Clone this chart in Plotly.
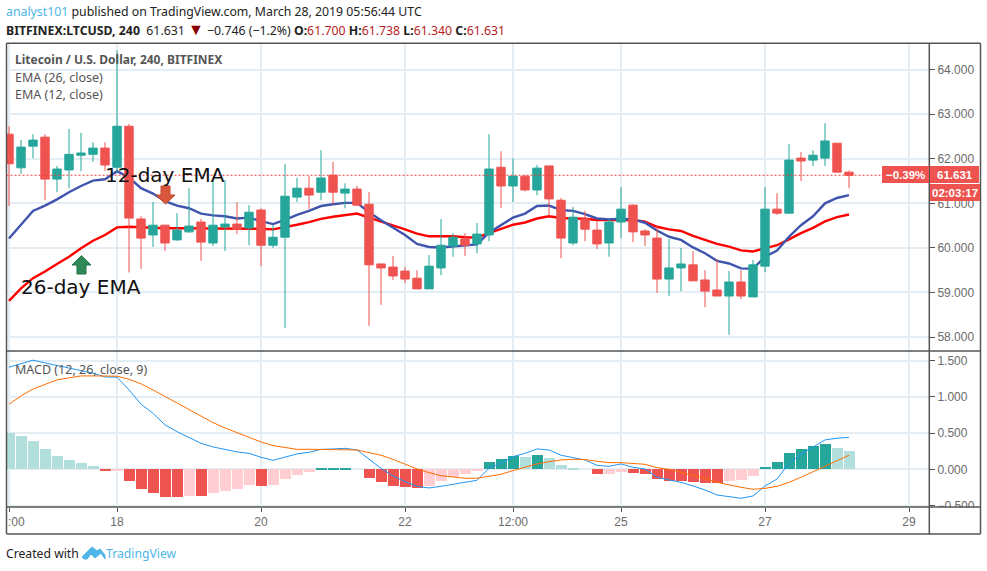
import plotly.graph_objects as go

W, H = 987, 571
bars = list(range(71))
open_ = [62.553,61.798,62.284,62.486,61.544,61.75,62.08,62.10,62.24,61.81,62.73,60.65,60.29,60.51,60.18,60.36,60.58,60.11,60.47,60.535,60.445,60.85,60.06,60.24,61.14,61.34,61.25,61.63,61.23,61.32,60.98,59.64,59.57,59.48,59.32,59.08,59.55,60.04,60.20,60.09,60.29,61.81,61.39,61.61,61.30,61.84,61.07,60.11,60.65,60.40,60.11,60.58,60.96,60.38,60.22,59.30,59.55,59.62,59.28,59.055,58.92,59.235,58.90,59.59,60.87,60.78,62.015,61.97,62.015,62.35,61.70]
high = [62.73,62.42,62.55,62.55,61.84,62.67,62.58,62.37,62.37,64.43,62.78,60.71,61.03,60.52,60.78,61.34,60.65,61.52,61.52,61.03,60.96,60.89,60.51,61.88,61.57,61.61,62.19,61.93,61.45,61.39,61.25,59.64,59.82,59.57,59.50,59.84,60.65,60.33,60.33,60.56,62.55,62.17,62.01,61.63,61.86,61.84,61.12,60.92,60.83,60.60,60.65,61.365,60.98,60.42,60.51,60.20,60.00,59.93,59.50,59.75,59.48,59.50,59.73,61.365,61.23,62.33,62.15,62.19,62.80,62.35,61.738]
low = [60.94,61.66,62.01,61.07,61.25,61.34,61.72,61.93,61.73,61.70,59.45,59.53,60.02,59.93,60.16,60.34,59.71,60.04,59.93,60.31,60.06,59.59,60.00,58.20,61.03,60.87,61.07,60.98,60.89,60.94,58.25,58.72,59.28,59.21,59.08,59.08,59.39,59.80,59.82,59.88,60.15,60.89,61.03,61.27,61.185,60.71,59.77,60.06,60.15,59.975,59.80,60.22,60.13,60.04,58.99,58.92,59.03,59.26,58.67,58.92,58.05,58.85,58.90,59.46,60.74,60.78,61.50,61.84,61.84,61.70,61.34]
close = [61.888,62.262,62.419,61.544,61.77,62.10,62.13,62.24,61.86,62.73,60.67,60.22,60.51,60.11,60.40,60.49,60.13,60.51,60.535,60.42,60.80,60.06,60.24,61.16,61.34,61.185,61.57,61.25,61.32,60.96,59.62,59.55,59.37,59.30,59.08,59.59,60.06,60.24,60.06,60.31,61.77,61.39,61.61,61.30,61.79,61.10,60.22,60.69,60.42,60.09,60.58,60.87,60.36,60.29,59.30,59.55,59.64,59.26,59.03,58.92,59.235,58.92,59.62,60.87,60.78,61.97,61.95,62.08,62.40,61.70,61.631]
ema12 = [60.21,60.51,60.83,60.95,61.09,61.25,61.39,61.51,61.54,61.72,61.58,61.34,61.22,61.05,60.95,60.89,60.77,60.73,60.71,60.66,60.68,60.60,60.535,60.63,60.74,60.83,60.94,60.98,61.01,61.01,60.80,60.62,60.46,60.29,60.09,60.02,60.01,60.03,60.06,60.08,60.34,60.51,60.68,60.77,60.94,60.95,60.85,60.83,60.76,60.66,60.64,60.655,60.64,60.565,60.39,60.25,60.18,60.01,59.88,59.71,59.65,59.54,59.53,59.80,59.94,60.25,60.51,60.71,61.00,61.12,61.185]
ema26 = [58.81,59.09,59.32,59.47,59.64,59.80,59.99,60.16,60.29,60.46,60.475,60.46,60.445,60.44,60.44,60.44,60.44,60.44,60.44,60.44,60.44,60.43,60.415,60.46,60.52,60.58,60.65,60.70,60.74,60.77,60.68,60.595,60.505,60.415,60.32,60.26,60.26,60.26,60.24,60.235,60.33,60.42,60.52,60.57,60.66,60.71,60.67,60.66,60.655,60.625,60.62,60.625,60.625,60.59,60.475,60.415,60.38,60.27,60.18,60.09,60.03,59.945,59.92,59.99,60.06,60.19,60.33,60.45,60.595,60.69,60.75]
hist = [.507,.46,.39,.28,.184,.129,.088,.046,-.023,-.02,-.161,-.272,-.327,-.382,-.382,-.369,-.369,-.327,-.30,-.272,-.217,-.23,-.217,-.134,-.078,-.037,.005,.005,.005,0,-.12,-.175,-.23,-.244,-.258,-.23,-.161,-.106,-.065,-.023,.10,.143,.184,.17,.198,.157,.06,.018,0,-.065,-.065,-.037,-.05,-.065,-.134,-.161,-.161,-.175,-.189,-.189,-.161,-.147,-.092,.032,.10,.226,.281,.323,.35,.295,.253]
hist_state = list("LLLLLLLLRPRRRRRPRPPPPRPPPPGGGGRRRRRPPPPPGGGLGLLLLRPPRRRRRRRRPPPGGGGGGLL")
macd = [1.41,1.46,1.507,1.47,1.433,1.396,1.364,1.327,1.276,1.272,1.097,.899,.774,.613,.521,.442,.359,.309,.276,.24,.221,.166,.124,.166,.212,.235,.276,.281,.29,.267,.143,.014,-.092,-.17,-.235,-.258,-.235,-.207,-.18,-.152,.014,.088,.175,.221,.281,.267,.194,.166,.129,.055,.041,.074,.028,.005,-.11,-.147,-.18,-.23,-.286,-.355,-.373,-.40,-.369,-.23,-.134,.083,.207,.309,.406,.429,.442]
signal = [.899,1.014,1.11,1.175,1.235,1.263,1.29,1.29,1.286,1.286,1.244,1.18,1.097,1.005,.912,.82,.728,.645,.571,.507,.442,.378,.327,.304,.276,.276,.276,.276,.276,.267,.23,.194,.138,.074,.005,-.046,-.088,-.106,-.124,-.124,-.101,-.069,-.018,.028,.074,.106,.129,.138,.134,.111,.092,.092,.083,.069,.023,0,-.041,-.083,-.124,-.18,-.217,-.249,-.276,-.263,-.235,-.18,-.11,-.032,.037,.12,.194]
x_tick_vals = [0, 9, 21, 33, 42, 51, 63, 75]
x_tick_text = ["", "18", "20", "22", "12:00", "25", "27", "29"]
price_ticks = [58, 59, 60, 61, 62, 63, 64]
macd_ticks = [-0.5, 0, 0.5, 1.0, 1.5]
last_close = 61.631

UP, DOWN = "#26a69a", "#ef5350"
STATE = {"G": "#26a69a", "L": "#b2dfdb", "R": "#ef5350", "P": "#ffcdd2"}
GRID, FRAME, AXTXT = "#e4edf3", "#555555", "#6b6b6b"
SANS = "Noto Sans"

def px(x): return x / W
def py(y): return 1 - y / H

fig = go.Figure()
fig.add_trace(go.Scatter(x=bars, y=ema26, mode="lines", line=dict(color="#ff0000", width=2.4), xaxis="x", yaxis="y", hoverinfo="skip"))
fig.add_trace(go.Scatter(x=bars, y=ema12, mode="lines", line=dict(color="#3f55ad", width=2.4), xaxis="x", yaxis="y", hoverinfo="skip"))
fig.add_trace(go.Candlestick(x=bars, open=open_, high=high, low=low, close=close, xaxis="x", yaxis="y3",
    whiskerwidth=0,
    increasing=dict(line=dict(color=UP, width=1), fillcolor=UP),
    decreasing=dict(line=dict(color=DOWN, width=1), fillcolor=DOWN)))
fig.add_trace(go.Bar(x=bars, y=hist, marker=dict(color=[STATE[s] for s in hist_state], line=dict(width=0)), width=0.92, xaxis="x2", yaxis="y2", hoverinfo="skip"))
fig.add_trace(go.Scatter(x=bars, y=macd, mode="lines", line=dict(color="#2196f3", width=1), xaxis="x2", yaxis="y2", hoverinfo="skip"))
fig.add_trace(go.Scatter(x=bars, y=signal, mode="lines", line=dict(color="#ff6d00", width=1), xaxis="x2", yaxis="y2", hoverinfo="skip"))

xr = [(6.5 - 9) / 12, (929 - 9) / 12]
price_range = [62 - (351 - 158.6) / 44.6, 62 + (158.6 - 43) / 44.6]
tick_font = dict(family="Liberation Sans", size=12, color=AXTXT)

def x_axis(**kw):
    return dict(range=xr, domain=[px(6.5), px(929)], tickmode="array", tickvals=x_tick_vals, automargin=False,
                showgrid=True, gridcolor=GRID, gridwidth=1.5, zeroline=False, showline=False, **kw)

shapes = []
def frame(x0, y0, x1, y1, color=FRAME, w=1.5):
    shapes.append(dict(type="line", xref="paper", yref="paper", x0=px(x0), y0=py(y0), x1=px(x1), y1=py(y1), line=dict(color=color, width=w)))

def poly(points, fill, edge):
    path = "M" + " L".join(f"{px(a):.5f},{py(b):.5f}" for a, b in points) + " Z"
    shapes.append(dict(type="path", xref="paper", yref="paper", path=path, fillcolor=fill, line=dict(color=edge, width=1)))

# white cover that trims the lowest MACD tick label at the pane border
shapes.append(dict(type="rect", xref="paper", yref="paper", x0=px(930), x1=px(980), y0=py(533), y1=py(507.5), fillcolor="white", line=dict(width=0)))
frame(6.5, 43.3, 980.5, 43.3)
frame(6.5, 534, 980.5, 534)
frame(6.5, 43.3, 6.5, 534)
frame(980.5, 43.3, 980.5, 534)
frame(929.3, 43.3, 929.3, 534)
frame(6.5, 351, 980.5, 351)
frame(6.5, 507, 980.5, 507)
# last price line
shapes.append(dict(type="line", xref="paper", yref="y", x0=px(6.5), x1=px(882), y0=last_close, y1=last_close, line=dict(color="#f23b3b", width=1, dash="2px,2px")))
# price tags
for a, b, c, d in [(882, 166, 929, 183), (930, 166, 979, 183), (930, 184, 980, 201)]:
    shapes.append(dict(type="rect", xref="paper", yref="paper", x0=px(a), x1=px(c), y0=py(d), y1=py(b), fillcolor=DOWN, line=dict(width=0)))
# hand-drawn arrows
poly([(161, 186), (170, 186), (170, 195), (175, 195), (165.5, 204), (156, 195), (161, 195)], "#d9573a", "#c0492e")
poly([(81.5, 255.7), (91, 265), (86, 265), (86, 274), (77, 274), (77, 265), (72, 265)], "#2e8b57", "#25704a")
# TradingView logo
poly([(82, 557), (92, 547), (97, 551), (100, 549), (105, 555), (105, 559), (101, 553), (95, 558), (91, 554), (87, 559), (84, 559)], "#4db6e6", "#4db6e6")

ann = []
def text(x, y, s, size=12, color="#222222", family=SANS, anchor="left"):
    ann.append(dict(xref="paper", yref="paper", x=px(x), y=py(y), text=s, showarrow=False, xanchor=anchor, yanchor="middle",
                    font=dict(family=family, size=size, color=color), align="left", borderpad=0, borderwidth=0))

RED = "#b71c1c"
text(6, 12, '<span style="color:#4db6e6">analyst101</span> published on TradingView.com, March 28, 2019 05:56:44 UTC', size=12.3)
text(6, 29, f'<b>BITFINEX:LTCUSD, 240</b>  61.631 <span style="color:#8b0000;font-size:16px">▼</span> −0.746 (−1.2%) <b>O:</b><span style="color:{RED}">61.700</span> <b>H:</b><span style="color:{RED}">61.738</span> <b>L:</b><span style="color:{RED}">61.340</span> <b>C:</b><span style="color:{RED}">61.631</span>', size=12.3)
text(15, 60, "<b>Litecoin / U.S. Dollar, 240, BITFINEX</b>", size=12, color="#555555")
text(15, 77, "EMA (26, close)", size=12.5, color="#555555")
text(15, 94, "EMA (12, close)", size=12.5, color="#555555")
text(15, 369, "MACD (12, 26, close, 9)", size=12.5, color="#555555")
text(105, 175, "12-day EMA", size=20, color="#111111", family="DejaVu Sans")
text(21, 287, "26-day EMA", size=20, color="#111111", family="DejaVu Sans")
text(8, 522, ":00", size=12, color=AXTXT, family="Liberation Sans")
text(905.5, 174.5, "<b>−0.39%</b>", size=11.5, color="white", family="Liberation Sans", anchor="center")
text(954.5, 174.5, "<b>61.631</b>", size=11.5, color="white", family="Liberation Sans", anchor="center")
text(955, 192.5, "<b>02:03:17</b>", size=11.5, color="white", family="Liberation Sans", anchor="center")
text(6, 553, "Created with", size=12.2, color="#222222")
text(106, 553, "TradingView", size=12.2, color="#4db6e6")

fig.update_layout(
    width=W, height=H, autosize=False, margin=dict(l=0, r=0, t=0, b=0, pad=0),
    paper_bgcolor="white", plot_bgcolor="white", showlegend=False, boxgap=0.3, boxgroupgap=0, bargap=0,
    xaxis=x_axis(anchor="y", showticklabels=False, ticks="", rangeslider=dict(visible=False)),
    xaxis2=x_axis(anchor="y2", ticktext=x_tick_text, ticks="outside", ticklen=4, tickcolor=FRAME, tickfont=tick_font),
    yaxis=dict(domain=[py(351), py(43.3)], range=price_range, side="right", anchor="x", tickmode="array", tickvals=price_ticks, automargin=False,
               tickformat=".3f", ticks="outside", ticklen=5, tickcolor=FRAME, tickfont=tick_font,
               showgrid=True, gridcolor=GRID, gridwidth=1.5, zeroline=False),
    yaxis3=dict(domain=[py(351), py(43.3)], range=price_range, overlaying="y", side="right", anchor="x", visible=False, automargin=False),
    yaxis2=dict(domain=[py(507), py(351)], range=[(469.3 - 507) / 72.4, (469.3 - 351) / 72.4], side="right", anchor="x2", automargin=False,
                tickmode="array", tickvals=macd_ticks, tickformat=".3f", ticks="outside", ticklen=5, tickcolor=FRAME, tickfont=tick_font,
                showgrid=True, gridcolor=GRID, gridwidth=1.5, zeroline=False),
    shapes=shapes, annotations=ann,
)

fig.write_html("out.html", post_script="var s=document.body.style,r=document.documentElement.style;s.margin='0';s.padding='0';s.height='571px';s.overflow='hidden';r.height='571px';r.overflow='hidden';", config=dict(displayModeBar=False))
